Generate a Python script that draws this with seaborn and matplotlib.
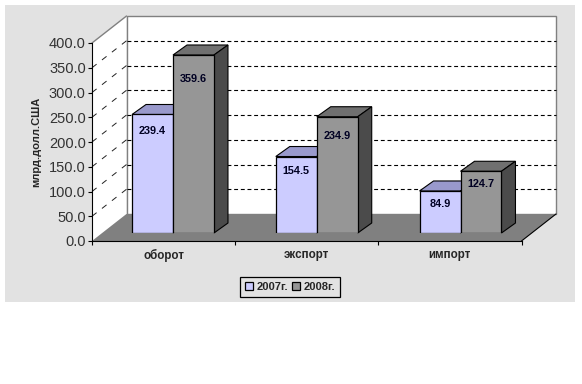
import pandas as pd
import seaborn as sns
import matplotlib.pyplot as plt
from matplotlib.patches import Polygon, Rectangle
from matplotlib.ticker import FormatStrFormatter

# values
categories = ["оборот", "экспорт", "импорт"]
values_2007 = [239.4, 154.5, 84.9]
values_2008 = [359.6, 234.9, 124.7]
series_names = ["2007г.", "2008г."]
y_ticks = [0, 50, 100, 150, 200, 250, 300, 350, 400]

# per bar shift of the value label below the bar top, in pixels
label_drop = [17, 14, 13, 24, 19, 13]

W, H = 582, 384
DX, DY = 34.5, 27      # depth of the box
BAR_DX, BAR_DY = 14, 10  # depth of a bar

sns.set_style("white")
plt.rcParams["font.family"] = ["Liberation Sans", "DejaVu Sans"]

df = pd.DataFrame({
    "cat": categories * 2,
    "year": [series_names[0]] * 3 + [series_names[1]] * 3,
    "val": values_2007 + values_2008,
})

fig = plt.figure(figsize=(W / 100, H / 100), dpi=100, facecolor="white")


def axes_px(x0, x1, y_top, y_bottom, **kw):
    return fig.add_axes([x0 / W, 1 - y_bottom / H, (x1 - x0) / W, (y_bottom - y_top) / H], **kw)


# box in pixel coordinates: grey panel, walls, floor
deco = axes_px(0, W, 0, H)
deco.set_xlim(0, W)
deco.set_ylim(H, 0)
deco.axis("off")
deco.add_patch(Rectangle((5, 5), 570, 297, fc="#e2e2e2", ec="none"))

fx0, fx1, fy0, fy1 = 92, 521.5, 43, 241  # front plane of the box
deco.add_patch(Polygon([(fx0, fy0), (fx0 + DX, fy0 - DY), (fx0 + DX, fy1 - DY), (fx0, fy1)],
                       fc="white", ec="none"))
deco.add_patch(Rectangle((fx0 + DX, fy0 - DY), fx1 - fx0, fy1 - fy0, fc="white", ec="#808080", lw=1))
deco.add_patch(Polygon([(fx0, fy1), (fx0 + DX, fy1 - DY), (fx1 + DX, fy1 - DY), (fx1, fy1)],
                       fc="#808080", ec="none"))
deco.plot([fx0, fx0 + DX], [fy0, fy0 - DY], color="#808080", lw=1)
deco.plot([fx1, fx1 + DX], [fy1, fy1 - DY], color="black", lw=0.8)
for t in y_ticks[1:-1]:
    y = fy1 - t * (fy1 - fy0) / 400
    deco.plot([fx0, fx0 + DX], [y, y - DY], color="#222222", lw=0.7, dashes=(6, 7))
    deco.plot([fx0 + DX, fx1 + DX], [y - DY, y - DY], color="black", lw=0.8, dashes=(3.5, 2.5))

# front axis with the ticks and the labels
front = axes_px(fx0, fx1, fy0, fy1)
front.patch.set_alpha(0)
front.set_xlim(-0.5, 2.5)
front.set_ylim(0, 400)
front.set_yticks(y_ticks)
front.yaxis.set_major_formatter(FormatStrFormatter("%.1f"))
front.tick_params(axis="y", labelsize=10.5, left=True, length=3, width=0.8, pad=1.5, color="black", labelcolor="#333333")
front.set_xticks([-0.5, 0.5, 1.5, 2.5], labels=[])
front.tick_params(axis="x", which="major", bottom=True, length=3, width=0.8, color="black")
front.set_xticks([0, 1, 2], labels=categories, minor=True)
front.tick_params(axis="x", which="minor", bottom=False, length=0, pad=6, labelsize=8.4)
for lab in front.get_xticklabels(minor=True):
    lab.set_fontweight("bold")
sns.despine(ax=front, top=True, right=True)
for s in ["left", "bottom"]:
    front.spines[s].set_color("black")
    front.spines[s].set_linewidth(0.8)
fig.text(36 / W, 1 - 142 / H, "млрд.долл.США", rotation=90, fontsize=8, fontweight="bold",
         ha="center", va="center")

# bars, on a plane set back from the front of the box
px_cat = 143.75
ax = axes_px(173 - 0.5 * px_cat, 173 + 2.5 * px_cat, 35, 233)
ax.patch.set_alpha(0)
sns.barplot(data=df, x="cat", y="val", hue="year", hue_order=series_names, order=categories,
            palette=["#ccccff", "#969696"], width=0.57, gap=0, saturation=1,
            edgecolor="black", linewidth=0.9, errorbar=None, ax=ax, zorder=3)
ax.set_xlim(-0.5, 2.5)
ax.set_ylim(0, 400)
ax.axis("off")

top_colors = ["#9999cc", "#707070"]
side_colors = ["#666699", "#4b4b4b"]
px_val = 198 / 400
ddx = BAR_DX / px_cat
ddy = BAR_DY / px_val
bars = [p for p in ax.patches if p.get_height() > 0][:6]
for i, p in enumerate(bars):
    s = i // 3
    x0, x1, h = p.get_x(), p.get_x() + p.get_width(), p.get_height()
    ax.add_patch(Polygon([(x0, h), (x1, h), (x1 + ddx, h + ddy), (x0 + ddx, h + ddy)],
                         fc=top_colors[s], ec="black", lw=0.8, zorder=1, clip_on=False))
    ax.add_patch(Polygon([(x1, 0), (x1 + ddx, ddy), (x1 + ddx, h + ddy), (x1, h)],
                         fc=side_colors[s], ec="black", lw=0.8, zorder=1, clip_on=False))
    ax.annotate(f"{h:.1f}", (x0 + p.get_width() / 2, h), xytext=(0, -label_drop[i] * 0.72),
                textcoords="offset points", ha="center", va="center", fontsize=7.8,
                fontweight="bold", color="#000022", zorder=5)

handles, labels = ax.get_legend_handles_labels()
leg = fig.legend(handles, labels, ncol=2, loc="center", bbox_to_anchor=(290 / W, 1 - 287 / H),
                 frameon=True, fancybox=False, framealpha=1, facecolor="#e2e2e2", edgecolor="black",
                 prop={"weight": "bold", "size": 8}, handlelength=0.7, handleheight=0.7,
                 handletextpad=0.3, columnspacing=0.4, borderpad=0.45, borderaxespad=0)
leg.get_frame().set_linewidth(0.9)
ax.get_legend().remove()

fig.savefig("out.png", dpi=100)
